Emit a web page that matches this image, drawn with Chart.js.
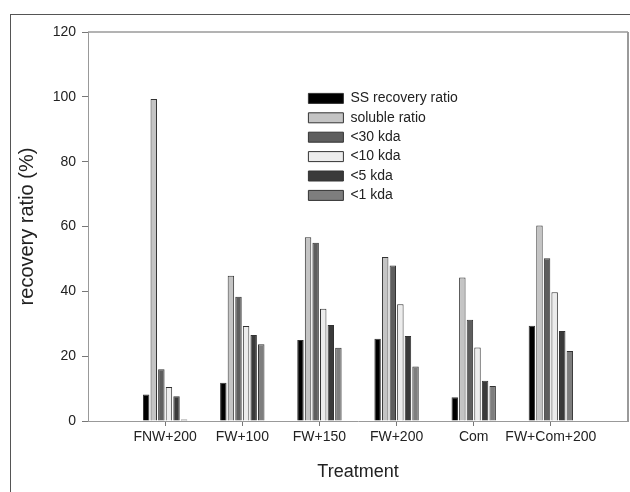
<!DOCTYPE html>
<html>
<head>
<meta charset="utf-8">
<script src="https://cdn.jsdelivr.net/npm/chart.js@4.4.1/dist/chart.umd.min.js"></script>
<style>
  html, body { margin: 0; padding: 0; background: #fff; }
  #wrap { position: relative; width: 630px; height: 492px; overflow: hidden; }
  #frame {
    position: absolute; left: 10px; top: 14px; width: 700px; height: 600px;
    border-left: 1px solid #555; border-top: 1px solid #555;
  }
  canvas { position: absolute; left: 0; top: 0; }
</style>
</head>
<body>
<div id="wrap">
  <div id="frame"></div>
  <canvas id="chart" width="630" height="492"></canvas>
</div>
<script>
const categories = ["FNW+200", "FW+100", "FW+150", "FW+200", "Com", "FW+Com+200"];
const ssRecovery = [8.2, 11.8, 25.0, 25.4, 7.3, 29.4];
const soluble = [99.3, 44.8, 56.7, 50.6, 44.3, 60.3];
const kda30 = [16.0, 38.3, 55.0, 48.0, 31.2, 50.2];
const kda10 = [10.5, 29.3, 34.6, 36.0, 22.7, 39.7];
const kda5 = [7.6, 26.5, 29.6, 26.2, 12.4, 27.8];
const kda1 = [0.5, 23.7, 22.6, 16.8, 10.8, 21.6];
const yTicks = [0, 20, 40, 60, 80, 100, 120];

const FONT = "'Liberation Sans', Arial, sans-serif";

const series = [
  { label: "SS recovery ratio", values: ssRecovery, color: "#000000" },
  { label: "soluble ratio", values: soluble, color: "#c4c4c4" },
  { label: "<30 kda", values: kda30, color: "#5e5e5e" },
  { label: "<10 kda", values: kda10, color: "#ececec" },
  { label: "<5 kda", values: kda5, color: "#3a3a3a" },
  { label: "<1 kda", values: kda1, color: "#7e7e7e" },
];

const datasets = series.map(({ label, values, color }) => ({
  label,
  data: values.map((y, i) => ({ x: i + 1, y })),
  backgroundColor: color,
  borderColor: "#333333",
  borderWidth: 1,
  categoryPercentage: 0.59,
  barPercentage: 0.85,
}));

// top and right edges of the plot box
const plotBox = {
  id: "plotBox",
  afterDraw(chart) {
    const { ctx, chartArea: a } = chart;
    ctx.save();
    ctx.strokeStyle = "#9a9a9a";
    ctx.lineWidth = 1.5;
    ctx.beginPath();
    ctx.moveTo(a.left, a.top);
    ctx.lineTo(a.right, a.top);
    ctx.stroke();
    ctx.lineWidth = 2;
    ctx.beginPath();
    ctx.moveTo(a.right, a.top);
    ctx.lineTo(a.right, a.bottom);
    ctx.stroke();
    ctx.restore();
  },
};

// put the legend inside the plot, upper middle
const legendInside = {
  id: "legendInside",
  afterLayout(chart) {
    const a = chart.chartArea;
    chart.legend.left = a.left + 215;
    chart.legend.top = a.top + 54;
  },
};

new Chart(document.getElementById("chart"), {
  type: "bar",
  data: { datasets },
  options: {
    responsive: false,
    animation: false,
    devicePixelRatio: 1,
    layout: { padding: { left: 0, top: 32, right: 2, bottom: 0 } },
    plugins: {
      tooltip: { enabled: false },
      legend: {
        position: "chartArea",
        align: "start",
        labels: {
          boxWidth: 35,
          boxHeight: 10,
          padding: 5.4,
          color: "#222",
          font: { family: FONT, size: 14 },
        },
      },
    },
    scales: {
      x: {
        type: "linear",
        min: 0,
        max: 7,
        offset: false,
        afterBuildTicks: (axis) => {
          axis.ticks = categories.map((c, i) => ({ value: i + 1 }));
        },
        afterFit: (scale) => {
          scale.height = 71;
        },
        ticks: {
          callback: (v) => categories[v - 1],
          autoSkip: false,
          maxRotation: 0,
          padding: 3,
          color: "#222",
          font: { family: FONT, size: 14 },
        },
        grid: { offset: false, drawOnChartArea: false, tickLength: 5, tickColor: "#777" },
        border: { color: "#999", width: 1 },
        title: {
          display: true,
          text: "Treatment",
          color: "#222",
          font: { family: FONT, size: 18 },
          padding: { top: 0, bottom: 9 },
        },
      },
      y: {
        min: 0,
        max: 120,
        afterBuildTicks: (axis) => {
          axis.ticks = yTicks.map((v) => ({ value: v }));
        },
        afterFit: (scale) => {
          scale.width = 88;
        },
        ticks: {
          padding: 6,
          color: "#222",
          font: { family: FONT, size: 14 },
        },
        grid: { drawOnChartArea: false, tickLength: 6, tickColor: "#777" },
        border: { color: "#999", width: 1 },
        title: {
          display: true,
          text: "recovery ratio (%)",
          color: "#222",
          font: { family: FONT, size: 20 },
          padding: { top: 15, bottom: 0 },
        },
      },
    },
  },
  plugins: [plotBox, legendInside],
});
</script>
</body>
</html>
